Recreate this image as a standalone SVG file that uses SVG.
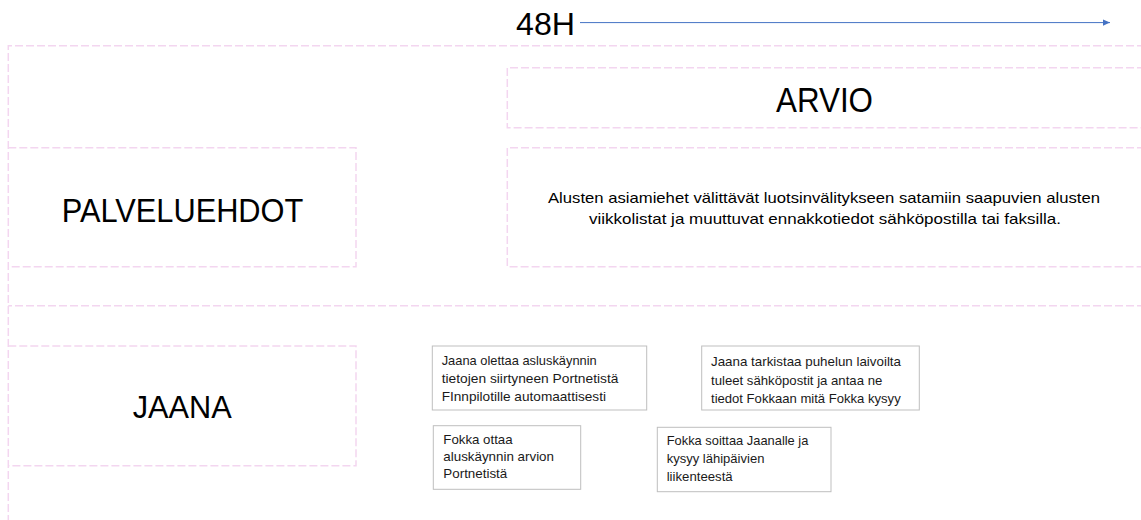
<svg xmlns="http://www.w3.org/2000/svg" width="1141" height="520" viewBox="0 0 1141 520">
  <style>
    .lane { fill: none; stroke: #F3D6F0; stroke-width: 1.5; stroke-dasharray: 8 3; }
    .big { font-family: "Liberation Sans", Arial, sans-serif; fill: #000; text-anchor: middle; }
    .para { font-family: "Liberation Sans", Arial, sans-serif; font-size: 15px; fill: #000; text-anchor: middle; }
    .note rect { fill: #fff; stroke: #BFBFBF; stroke-width: 1; }
    .note text { font-family: "Liberation Sans", Arial, sans-serif; font-size: 13px; fill: #1a1a1a; }
  </style>
  <defs>
    <marker id="arrow" markerWidth="8" markerHeight="8" refX="7" refY="4" orient="auto" markerUnits="userSpaceOnUse">
      <path d="M0,0.8 L7,4 L0,7.2 Z" fill="#4472C4"/>
    </marker>
  </defs>
  <rect width="1141" height="520" fill="#fff"/>

  <g id="lanes">
    <path class="lane" d="M1145,45.7 H8.3 V520"/>
    <path class="lane" d="M1145,305.7 H8.3"/>
  </g>

  <g id="timeline">
    <text class="big" x="545.5" y="35" font-size="32" textLength="59" lengthAdjust="spacingAndGlyphs">48H</text>
  </g>

  <g id="connectors">
    <line x1="580" y1="22.6" x2="1110" y2="22.6" stroke="#4472C4" stroke-width="1" marker-end="url(#arrow)"/>
  </g>

  <g id="palveluehdot">
    <path class="lane" d="M8.3,147.7 H356 V266.7 H8.3"/>
    <text class="big" x="182.5" y="221.7" font-size="32.5" textLength="241.7" lengthAdjust="spacingAndGlyphs">PALVELUEHDOT</text>
  </g>

  <g id="arvio">
    <path class="lane" d="M1145,67.7 H507.3 V127.7 H1145"/>
    <text class="big" x="824.5" y="111.7" font-size="35" textLength="97" lengthAdjust="spacingAndGlyphs">ARVIO</text>
  </g>

  <g id="arvio-text">
    <path class="lane" d="M1145,147.7 H507.3 V266.7 H1145"/>
    <text class="para" x="824" y="202.7" textLength="552" lengthAdjust="spacingAndGlyphs">Alusten asiamiehet välittävät luotsinvälitykseen satamiin saapuvien alusten</text>
    <text class="para" x="825" y="224" textLength="472" lengthAdjust="spacingAndGlyphs">viikkolistat ja muuttuvat ennakkotiedot sähköpostilla tai faksilla.</text>
  </g>

  <g id="jaana">
    <path class="lane" d="M8.3,346 H356 V465.7 H8.3"/>
    <text class="big" x="182.2" y="418.3" font-size="31" textLength="99" lengthAdjust="spacingAndGlyphs">JAANA</text>
  </g>

  <g id="note-jaana-olettaa" class="note">
    <rect x="432.3" y="346" width="214.4" height="64"/>
    <text x="441.7" y="364.5" textLength="155" lengthAdjust="spacingAndGlyphs">Jaana olettaa asluskäynnin</text>
    <text x="441.7" y="382.8" textLength="176.7" lengthAdjust="spacingAndGlyphs">tietojen siirtyneen Portnetistä</text>
    <text x="441.7" y="401" textLength="164.3" lengthAdjust="spacingAndGlyphs">FInnpilotille automaattisesti</text>
  </g>

  <g id="note-fokka-ottaa" class="note">
    <rect x="433.3" y="425.7" width="147.4" height="63.6"/>
    <text x="443.3" y="443.5" textLength="69.3" lengthAdjust="spacingAndGlyphs">Fokka ottaa</text>
    <text x="443.3" y="460.5" textLength="110.7" lengthAdjust="spacingAndGlyphs">aluskäynnin arvion</text>
    <text x="443.3" y="477.5" textLength="64" lengthAdjust="spacingAndGlyphs">Portnetistä</text>
  </g>

  <g id="note-jaana-tarkistaa" class="note">
    <rect x="701.7" y="346" width="217.6" height="64"/>
    <text x="711" y="366.3" textLength="190" lengthAdjust="spacingAndGlyphs">Jaana tarkistaa puhelun laivoilta</text>
    <text x="711" y="384.5" textLength="171.3" lengthAdjust="spacingAndGlyphs">tuleet sähköpostit ja antaa ne</text>
    <text x="711" y="402.5" textLength="189.7" lengthAdjust="spacingAndGlyphs">tiedot Fokkaan mitä Fokka kysyy</text>
  </g>

  <g id="note-fokka-soittaa" class="note">
    <rect x="657.3" y="427.3" width="173.7" height="64.4"/>
    <text x="666.7" y="445" textLength="141.7" lengthAdjust="spacingAndGlyphs">Fokka soittaa Jaanalle ja</text>
    <text x="666.7" y="463" textLength="97.7" lengthAdjust="spacingAndGlyphs">kysyy lähipäivien</text>
    <text x="666.7" y="481" textLength="66" lengthAdjust="spacingAndGlyphs">liikenteestä</text>
  </g>
</svg>
